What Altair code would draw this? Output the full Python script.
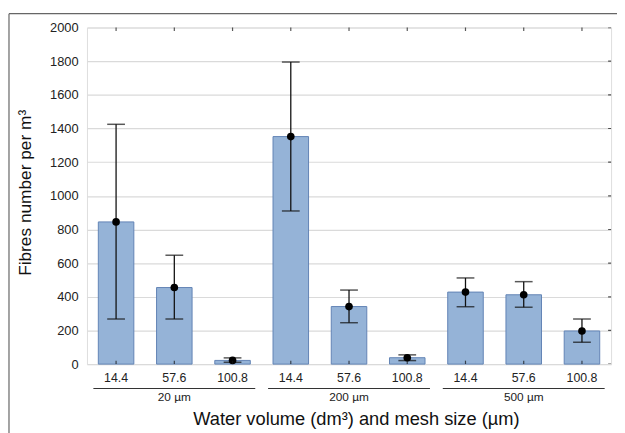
import altair as alt
import pandas as pd

# ---- data ----
groups = ["20 µm", "20 µm", "20 µm", "200 µm", "200 µm", "200 µm", "500 µm", "500 µm", "500 µm"]
volumes = ["14.4", "57.6", "100.8", "14.4", "57.6", "100.8", "14.4", "57.6", "100.8"]
means = [845, 455, 22, 1352, 342, 38, 428, 412, 197]
err_low = [268, 268, 11, 910, 246, 21, 341, 338, 130]
err_high = [1425, 647, 37, 1795, 440, 55, 512, 490, 268]
group_names = ["20 µm", "200 µm", "500 µm"]
y_ticks = [0, 200, 400, 600, 800, 1000, 1200, 1400, 1600, 1800, 2000]

keys = [f"{g}|{v}" for g, v in zip(groups, volumes)]
df = pd.DataFrame({"key": keys, "group": groups, "vol": volumes,
                   "mean": means, "lo": err_low, "hi": err_high})

gdf = pd.DataFrame({
    "group": group_names,
    "first": [keys[i * 3] for i in range(3)],
    "mid": [keys[i * 3 + 1] for i in range(3)],
    "last": [keys[i * 3 + 2] for i in range(3)],
})

xt = pd.DataFrame([{"key": k, "v": v} for k in keys for v in (0, 2000)])
yt = pd.DataFrame({"v": y_ticks})

W, H = 531, 341
FONT = "Liberation Sans"
BAR_FILL = "#95B3D7"
BAR_STROKE = "#6283B5"

xscale = alt.Scale(domain=keys, paddingInner=0.39, paddingOuter=0.195)
xaxis = alt.Axis(labelExpr="split(datum.label, '|')[1]", labelAngle=0,
                 ticks=False, domain=False, labelFontSize=12.5, labelPadding=8,
                 labelColor="#222", labelFont=FONT,
                 title="Water volume (dm³) and mesh size (µm)",
                 titleFont=FONT, titleFontSize=18.5, titleFontWeight="normal",
                 titleColor="#111", titleX=272.5, titleY=55.5,
                 titleBaseline="middle", titleAlign="center")
yscale = alt.Scale(domain=[0, 2000], nice=False)
yaxis = alt.Axis(values=y_ticks, format="d", labelOverlap=False,
                 grid=True, gridColor="#DADADA", gridWidth=1.2,
                 ticks=False, domain=False, labelFontSize=13, labelPadding=9,
                 labelColor="#222", labelFont=FONT,
                 title="Fibres number per m³", titleFont=FONT, titleFontSize=17.5,
                 titleFontWeight="normal", titleColor="#111",
                 titleX=-62, titleY=167, titleAngle=-90,
                 titleBaseline="middle", titleAlign="center")


def xq(field):
    return alt.X(field, scale=xscale, axis=xaxis)


def yq(field):
    return alt.Y(field, scale=yscale, axis=yaxis)


base = alt.Chart(df)

bars = base.mark_bar(fill=BAR_FILL, stroke=BAR_STROKE, strokeWidth=1).encode(
    x=xq("key:N"), y=yq("mean:Q"))
err = base.mark_rule(color="#111", strokeWidth=1.3).encode(
    x=xq("key:N"), y=yq("lo:Q"), y2="hi:Q")
cap_lo = base.mark_tick(color="#111", size=18, thickness=1.5).encode(
    x=xq("key:N"), y=yq("lo:Q"))
cap_hi = base.mark_tick(color="#111", size=18, thickness=1.5).encode(
    x=xq("key:N"), y=yq("hi:Q"))
dots = base.mark_circle(color="#000", size=60, opacity=1).encode(
    x=xq("key:N"), y=yq("mean:Q"))

xticks = alt.Chart(xt).mark_tick(orient="vertical", size=7, thickness=1.2,
                                 color="#111", clip=True).encode(
    x=xq("key:N"), y=yq("v:Q"))
yticks = alt.Chart(yt).mark_tick(orient="horizontal", size=6, thickness=1.2,
                                 color="#111", clip=True).encode(
    y=yq("v:Q"), x=alt.value(W))

glabels = alt.Chart(gdf).mark_text(font=FONT, fontSize=12, color="#222",
                                   baseline="middle").encode(
    x=xq("mid:N"), y=alt.value(H + 33.7), text="group:N")
glines = alt.Chart(gdf).mark_rule(color="#333", strokeWidth=1.2,
                                  xOffset=-23, x2Offset=23).encode(
    x=xq("first:N"), x2="last:N", y=alt.value(H + 24.7))

one = pd.DataFrame({"a": [0]})
frame_top = alt.Chart(one).mark_rule(color="#666", strokeWidth=1.2).encode(
    x=alt.value(-79), x2=alt.value(W + 10), y=alt.value(-14))
frame_left = alt.Chart(one).mark_rule(color="#666", strokeWidth=1.2).encode(
    x=alt.value(-79), y=alt.value(-14), y2=alt.value(H + 80))

chart = alt.layer(bars, err, cap_lo, cap_hi, dots, xticks, yticks,
                  glabels, glines, frame_top, frame_left).properties(
    width=W, height=H,
    autosize=alt.AutoSizeParams(type="none"),
    padding={"left": 80, "top": 17, "right": 6, "bottom": 67},
).configure_view(stroke="#111", strokeWidth=1.3).configure_axis(
    labelOverlap=False).configure(background="white")

chart.save("out.html", embed_options={"renderer": "svg", "actions": False})
